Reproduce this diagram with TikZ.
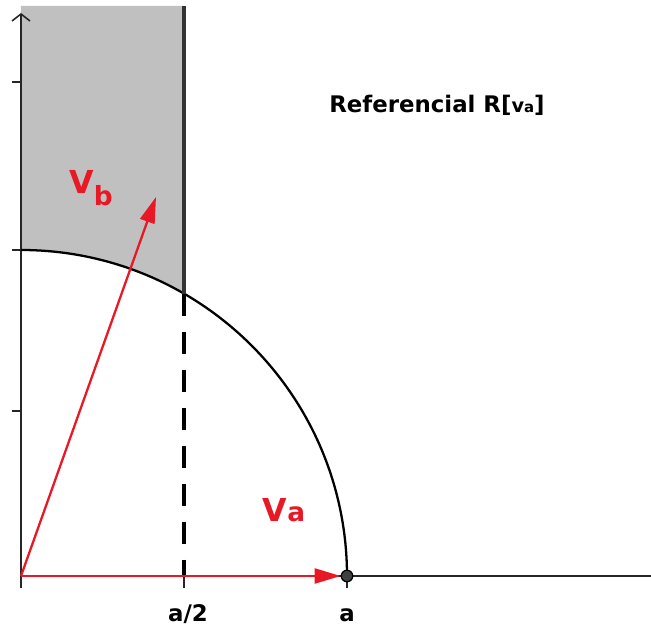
\documentclass[tikz,border=0pt]{standalone}
\usepackage{fontspec}
\setmainfont{DejaVu Sans}
\usepackage{xcolor}
\usepackage{tikz}
\usetikzlibrary{arrows.meta,positioning}

\definecolor{vecred}{RGB}{232,24,36}
\definecolor{zonegray}{RGB}{192,192,192}
\definecolor{dotgray}{RGB}{64,64,64}

\tikzset{
  axisline/.style={line width=0.9pt, draw=black!85},
  vecarrow/.style={line width=1.3pt, draw=vecred, -{Triangle[length=0.52cm,width=0.3cm]}},
  veclabel/.style={text=vecred, font=\bfseries\fontsize{18}{20}\selectfont, inner sep=0pt},
  ticklabel/.style={font=\bfseries\fontsize{13}{15}\selectfont, anchor=base, inner sep=0pt},
  ptdot/.style={circle, fill=dotgray, draw=black, line width=0.7pt, minimum size=0.23cm, inner sep=0pt}
}

\begin{document}
\begin{tikzpicture}
\useasboundingbox (-0.42,-1.04) rectangle (12.6,11.52);
% Shaded zone above the circle
\fill[zonegray] (0,11.4) -- (0,6.52) arc (90:60:6.52) -- (3.26,11.4) -- cycle;
% Axes and ticks
\coordinate (O) at (0,0);
\draw[axisline] (O) -- (12.6,0);
\draw[axisline, -{Straight Barb[length=0.14cm,width=0.36cm]}] (O) -- (0,11.26);
\foreach \y in {3.3,6.52,9.88} {
    \draw[axisline] (-0.18,\y) -- (0,\y);
}
\foreach \x in {0,3.26,6.52} {
    \draw[axisline] (\x,0) -- (\x,-0.24);
}
% Quarter circle of radius a
\draw[line width=1.3pt] (6.52,0) arc (0:90:6.52);
% Line x = a/2
\coordinate (M) at (60:6.52);
\draw[line width=2.4pt, draw=black!80] (3.26,11.4) -- (M);
\draw[line width=2.8pt, dash pattern=on 0.44cm off 0.32cm] (M) -- (3.26,0);
% Vectors
\node[ptdot] (ptA) at (6.52,0) {};
\coordinate (B) at (2.7,7.58);
\draw[vecarrow] (O) -- (ptA);
\draw[vecarrow] (O) -- (B);
\node[veclabel] (lblVa) at (5.26,1.32) {V{\fontsize{15}{17}\selectfont a}};
\node[veclabel] (lblVb) at (1.4,7.76) {V\raisebox{-6.8pt}{\fontsize{15}{17}\selectfont b}};
% Labels
\node[ticklabel] (lblHalf) at (3.34,-0.92) {a/2};
\node[ticklabel] (lblA) at (6.52,-0.92) {a};
\node[font=\bfseries\fontsize{13}{15}\selectfont, inner sep=0pt] (lblRef) at (8.32,9.42)
    {Referencial R[{\fontsize{11}{13}\selectfont v}{\fontsize{8.5}{10}\selectfont a}]};
\end{tikzpicture}
\end{document}
